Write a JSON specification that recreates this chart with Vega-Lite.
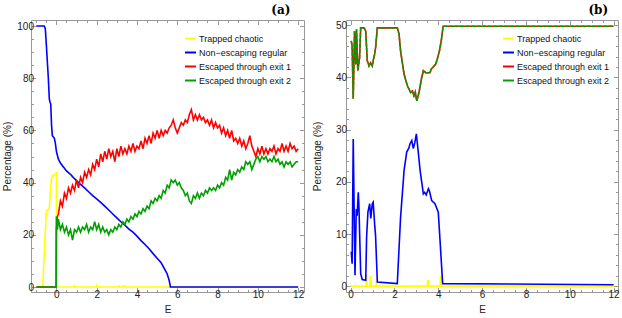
{
  "$schema": "https://vega.github.io/schema/vega-lite/v6.json",
  "padding": {"left": 2, "top": 3, "right": 0, "bottom": 0},
  "spacing": 6,
  "config": {
    "font": "Liberation Sans",
    "view": {"stroke": "#999999", "strokeWidth": 1},
    "axis": {"grid": false, "domain": false, "tickColor": "#999999", "labelColor": "#222222", "labelFontSize": 10, "titleFontSize": 10, "titleFontWeight": "normal", "titleColor": "#222222", "labelFont": "Liberation Sans", "titleFont": "Liberation Sans"},
    "legend": {"orient": "none", "title": null, "symbolType": "stroke", "symbolSize": 121, "symbolStrokeWidth": 2, "labelFontSize": 9, "labelFont": "Liberation Sans", "labelColor": "#111111", "rowPadding": 2, "labelOffset": 2, "padding": 0},
    "title": {"font": "DejaVu Serif", "fontWeight": "bold", "fontSize": 12, "color": "#000000"}
  },
  "resolve": {"scale": {"color": "independent"}, "legend": {"color": "independent"}},
  "datasets": {
    "a": [
      {"E":-1,"v":0,"s":"T"},{"E":-0.68,"v":0,"s":"T"},{"E":-0.5,"v":29,"s":"T"},{"E":-0.45,"v":29.5,"s":"T"},{"E":-0.38,"v":29.8,"s":"T"},{"E":-0.35,"v":30.5,"s":"T"},{"E":-0.25,"v":41.5,"s":"T"},{"E":-0.15,"v":43,"s":"T"},{"E":-0.05,"v":43,"s":"T"},{"E":0,"v":44,"s":"T"},{"E":0.01,"v":0,"s":"T"},{"E":0.88,"v":0,"s":"T"},{"E":0.9,"v":0.8,"s":"T"},{"E":0.92,"v":0,"s":"T"},{"E":1.98,"v":0,"s":"T"},{"E":2,"v":0.5,"s":"T"},{"E":2.02,"v":0,"s":"T"},{"E":3.1,"v":0,"s":"T"},{"E":3.12,"v":0.6,"s":"T"},{"E":3.14,"v":0,"s":"T"},{"E":3.3,"v":0,"s":"T"},{"E":3.32,"v":0.6,"s":"T"},{"E":3.34,"v":0,"s":"T"},{"E":3.42,"v":0,"s":"T"},{"E":3.44,"v":0.6,"s":"T"},{"E":3.46,"v":0,"s":"T"},{"E":12,"v":0,"s":"T"},
      {"E":-1,"v":100,"s":"N"},{"E":-0.6,"v":100,"s":"N"},{"E":-0.55,"v":99,"s":"N"},{"E":-0.5,"v":93,"s":"N"},{"E":-0.4,"v":80,"s":"N"},{"E":-0.35,"v":72,"s":"N"},{"E":-0.32,"v":71,"s":"N"},{"E":-0.28,"v":70,"s":"N"},{"E":-0.24,"v":62,"s":"N"},{"E":-0.2,"v":58,"s":"N"},{"E":-0.15,"v":57.5,"s":"N"},{"E":-0.1,"v":57,"s":"N"},{"E":-0.05,"v":55,"s":"N"},{"E":0,"v":52,"s":"N"},{"E":0.1,"v":49,"s":"N"},{"E":0.2,"v":47.5,"s":"N"},{"E":0.3,"v":46.5,"s":"N"},{"E":0.4,"v":45.5,"s":"N"},{"E":0.5,"v":44.5,"s":"N"},{"E":0.6,"v":43.8,"s":"N"},{"E":0.7,"v":43.2,"s":"N"},{"E":0.8,"v":42.3,"s":"N"},{"E":0.9,"v":41.5,"s":"N"},{"E":1,"v":40.8,"s":"N"},{"E":1.2,"v":39.3,"s":"N"},{"E":1.4,"v":38,"s":"N"},{"E":1.6,"v":36.5,"s":"N"},{"E":1.8,"v":35,"s":"N"},{"E":2,"v":33.8,"s":"N"},{"E":2.2,"v":32.4,"s":"N"},{"E":2.4,"v":31,"s":"N"},{"E":2.6,"v":29.5,"s":"N"},{"E":2.8,"v":28,"s":"N"},{"E":3,"v":26.5,"s":"N"},{"E":3.2,"v":25,"s":"N"},{"E":3.4,"v":23.7,"s":"N"},{"E":3.6,"v":22.2,"s":"N"},{"E":3.8,"v":21,"s":"N"},{"E":4,"v":19.5,"s":"N"},{"E":4.2,"v":17.8,"s":"N"},{"E":4.4,"v":16.3,"s":"N"},{"E":4.6,"v":14.7,"s":"N"},{"E":4.8,"v":12.8,"s":"N"},{"E":5,"v":11,"s":"N"},{"E":5.2,"v":9.3,"s":"N"},{"E":5.4,"v":6.5,"s":"N"},{"E":5.5,"v":5,"s":"N"},{"E":5.6,"v":2.5,"s":"N"},{"E":5.66,"v":0,"s":"N"},{"E":12,"v":0,"s":"N"},
      {"E":-1,"v":0,"s":"E1"},{"E":-0.01,"v":0,"s":"E1"},{"E":0,"v":22,"s":"E1"},{"E":0.05,"v":27,"s":"E1"},{"E":0.1,"v":28,"s":"E1"},{"E":0.2,"v":33,"s":"E1"},{"E":0.3,"v":31,"s":"E1"},{"E":0.4,"v":36,"s":"E1"},{"E":0.5,"v":34,"s":"E1"},{"E":0.6,"v":38,"s":"E1"},{"E":0.7,"v":36,"s":"E1"},{"E":0.8,"v":39,"s":"E1"},{"E":0.9,"v":37,"s":"E1"},{"E":1,"v":41,"s":"E1"},{"E":1.1,"v":38,"s":"E1"},{"E":1.2,"v":42,"s":"E1"},{"E":1.3,"v":40,"s":"E1"},{"E":1.4,"v":44,"s":"E1"},{"E":1.5,"v":42,"s":"E1"},{"E":1.6,"v":45,"s":"E1"},{"E":1.7,"v":43,"s":"E1"},{"E":1.8,"v":47,"s":"E1"},{"E":1.9,"v":45,"s":"E1"},{"E":2,"v":49,"s":"E1"},{"E":2.1,"v":46,"s":"E1"},{"E":2.2,"v":51,"s":"E1"},{"E":2.3,"v":48,"s":"E1"},{"E":2.4,"v":52,"s":"E1"},{"E":2.5,"v":49,"s":"E1"},{"E":2.6,"v":53,"s":"E1"},{"E":2.7,"v":50,"s":"E1"},{"E":2.8,"v":52,"s":"E1"},{"E":2.9,"v":48,"s":"E1"},{"E":3,"v":53,"s":"E1"},{"E":3.1,"v":50,"s":"E1"},{"E":3.2,"v":54,"s":"E1"},{"E":3.3,"v":51,"s":"E1"},{"E":3.4,"v":53,"s":"E1"},{"E":3.5,"v":51,"s":"E1"},{"E":3.6,"v":54,"s":"E1"},{"E":3.7,"v":52,"s":"E1"},{"E":3.8,"v":55,"s":"E1"},{"E":3.9,"v":52,"s":"E1"},{"E":4,"v":54,"s":"E1"},{"E":4.1,"v":53,"s":"E1"},{"E":4.2,"v":56,"s":"E1"},{"E":4.3,"v":53,"s":"E1"},{"E":4.4,"v":57,"s":"E1"},{"E":4.5,"v":55,"s":"E1"},{"E":4.6,"v":58,"s":"E1"},{"E":4.7,"v":55,"s":"E1"},{"E":4.8,"v":59,"s":"E1"},{"E":4.9,"v":57,"s":"E1"},{"E":5,"v":60,"s":"E1"},{"E":5.1,"v":57,"s":"E1"},{"E":5.2,"v":60,"s":"E1"},{"E":5.3,"v":58,"s":"E1"},{"E":5.4,"v":60,"s":"E1"},{"E":5.5,"v":59,"s":"E1"},{"E":5.6,"v":61,"s":"E1"},{"E":5.7,"v":62,"s":"E1"},{"E":5.8,"v":64,"s":"E1"},{"E":5.9,"v":61,"s":"E1"},{"E":6,"v":59,"s":"E1"},{"E":6.1,"v":61,"s":"E1"},{"E":6.2,"v":63,"s":"E1"},{"E":6.3,"v":62,"s":"E1"},{"E":6.4,"v":64,"s":"E1"},{"E":6.5,"v":63,"s":"E1"},{"E":6.6,"v":66,"s":"E1"},{"E":6.7,"v":68,"s":"E1"},{"E":6.8,"v":64,"s":"E1"},{"E":6.9,"v":66,"s":"E1"},{"E":7,"v":64,"s":"E1"},{"E":7.1,"v":66,"s":"E1"},{"E":7.2,"v":64,"s":"E1"},{"E":7.3,"v":65,"s":"E1"},{"E":7.4,"v":63,"s":"E1"},{"E":7.5,"v":64,"s":"E1"},{"E":7.6,"v":62,"s":"E1"},{"E":7.7,"v":64,"s":"E1"},{"E":7.8,"v":61,"s":"E1"},{"E":7.9,"v":63,"s":"E1"},{"E":8,"v":61,"s":"E1"},{"E":8.1,"v":62,"s":"E1"},{"E":8.2,"v":59,"s":"E1"},{"E":8.3,"v":61,"s":"E1"},{"E":8.4,"v":58,"s":"E1"},{"E":8.5,"v":60,"s":"E1"},{"E":8.6,"v":57,"s":"E1"},{"E":8.7,"v":60,"s":"E1"},{"E":8.8,"v":56,"s":"E1"},{"E":8.9,"v":57,"s":"E1"},{"E":9,"v":55,"s":"E1"},{"E":9.1,"v":57,"s":"E1"},{"E":9.2,"v":54,"s":"E1"},{"E":9.3,"v":56,"s":"E1"},{"E":9.4,"v":53,"s":"E1"},{"E":9.5,"v":55,"s":"E1"},{"E":9.6,"v":58,"s":"E1"},{"E":9.7,"v":54,"s":"E1"},{"E":9.8,"v":52,"s":"E1"},{"E":9.9,"v":50,"s":"E1"},{"E":10,"v":53,"s":"E1"},{"E":10.1,"v":51,"s":"E1"},{"E":10.2,"v":54,"s":"E1"},{"E":10.3,"v":51,"s":"E1"},{"E":10.4,"v":53,"s":"E1"},{"E":10.5,"v":51,"s":"E1"},{"E":10.6,"v":53,"s":"E1"},{"E":10.7,"v":52,"s":"E1"},{"E":10.8,"v":54,"s":"E1"},{"E":10.9,"v":51,"s":"E1"},{"E":11,"v":53,"s":"E1"},{"E":11.1,"v":52,"s":"E1"},{"E":11.2,"v":55,"s":"E1"},{"E":11.3,"v":52,"s":"E1"},{"E":11.4,"v":54,"s":"E1"},{"E":11.5,"v":52,"s":"E1"},{"E":11.6,"v":55,"s":"E1"},{"E":11.7,"v":53,"s":"E1"},{"E":11.8,"v":54,"s":"E1"},{"E":11.9,"v":52,"s":"E1"},{"E":12,"v":53,"s":"E1"},
      {"E":-1,"v":0,"s":"E2"},{"E":-0.01,"v":0,"s":"E2"},{"E":0,"v":27,"s":"E2"},{"E":0.05,"v":22,"s":"E2"},{"E":0.1,"v":26,"s":"E2"},{"E":0.2,"v":22,"s":"E2"},{"E":0.3,"v":24,"s":"E2"},{"E":0.4,"v":21,"s":"E2"},{"E":0.5,"v":23,"s":"E2"},{"E":0.6,"v":20,"s":"E2"},{"E":0.7,"v":22,"s":"E2"},{"E":0.8,"v":18,"s":"E2"},{"E":0.9,"v":22,"s":"E2"},{"E":1,"v":21,"s":"E2"},{"E":1.1,"v":23,"s":"E2"},{"E":1.2,"v":21,"s":"E2"},{"E":1.3,"v":23,"s":"E2"},{"E":1.4,"v":22,"s":"E2"},{"E":1.5,"v":24,"s":"E2"},{"E":1.6,"v":21,"s":"E2"},{"E":1.7,"v":23,"s":"E2"},{"E":1.8,"v":22,"s":"E2"},{"E":1.9,"v":25,"s":"E2"},{"E":2,"v":22,"s":"E2"},{"E":2.1,"v":24,"s":"E2"},{"E":2.2,"v":21,"s":"E2"},{"E":2.3,"v":23,"s":"E2"},{"E":2.4,"v":21,"s":"E2"},{"E":2.5,"v":22,"s":"E2"},{"E":2.6,"v":20,"s":"E2"},{"E":2.7,"v":22,"s":"E2"},{"E":2.8,"v":21,"s":"E2"},{"E":2.9,"v":23,"s":"E2"},{"E":3,"v":22,"s":"E2"},{"E":3.1,"v":24,"s":"E2"},{"E":3.2,"v":23,"s":"E2"},{"E":3.3,"v":25,"s":"E2"},{"E":3.4,"v":24,"s":"E2"},{"E":3.5,"v":26,"s":"E2"},{"E":3.6,"v":25,"s":"E2"},{"E":3.7,"v":27,"s":"E2"},{"E":3.8,"v":26,"s":"E2"},{"E":3.9,"v":28,"s":"E2"},{"E":4,"v":27,"s":"E2"},{"E":4.1,"v":29,"s":"E2"},{"E":4.2,"v":28,"s":"E2"},{"E":4.3,"v":30,"s":"E2"},{"E":4.4,"v":29,"s":"E2"},{"E":4.5,"v":31,"s":"E2"},{"E":4.6,"v":30,"s":"E2"},{"E":4.7,"v":33,"s":"E2"},{"E":4.8,"v":32,"s":"E2"},{"E":4.9,"v":34,"s":"E2"},{"E":5,"v":33,"s":"E2"},{"E":5.1,"v":35,"s":"E2"},{"E":5.2,"v":34,"s":"E2"},{"E":5.3,"v":37,"s":"E2"},{"E":5.4,"v":36,"s":"E2"},{"E":5.5,"v":39,"s":"E2"},{"E":5.6,"v":38,"s":"E2"},{"E":5.7,"v":41,"s":"E2"},{"E":5.8,"v":40,"s":"E2"},{"E":5.9,"v":41,"s":"E2"},{"E":6,"v":39,"s":"E2"},{"E":6.1,"v":40,"s":"E2"},{"E":6.2,"v":38,"s":"E2"},{"E":6.3,"v":37,"s":"E2"},{"E":6.4,"v":35,"s":"E2"},{"E":6.5,"v":36,"s":"E2"},{"E":6.6,"v":33,"s":"E2"},{"E":6.7,"v":32,"s":"E2"},{"E":6.8,"v":35,"s":"E2"},{"E":6.9,"v":34,"s":"E2"},{"E":7,"v":36,"s":"E2"},{"E":7.1,"v":34,"s":"E2"},{"E":7.2,"v":36,"s":"E2"},{"E":7.3,"v":35,"s":"E2"},{"E":7.4,"v":37,"s":"E2"},{"E":7.5,"v":36,"s":"E2"},{"E":7.6,"v":38,"s":"E2"},{"E":7.7,"v":37,"s":"E2"},{"E":7.8,"v":38,"s":"E2"},{"E":7.9,"v":37,"s":"E2"},{"E":8,"v":39,"s":"E2"},{"E":8.1,"v":38,"s":"E2"},{"E":8.2,"v":40,"s":"E2"},{"E":8.3,"v":39,"s":"E2"},{"E":8.4,"v":42,"s":"E2"},{"E":8.5,"v":41,"s":"E2"},{"E":8.6,"v":45,"s":"E2"},{"E":8.7,"v":41,"s":"E2"},{"E":8.8,"v":44,"s":"E2"},{"E":8.9,"v":43,"s":"E2"},{"E":9,"v":45,"s":"E2"},{"E":9.1,"v":44,"s":"E2"},{"E":9.2,"v":46,"s":"E2"},{"E":9.3,"v":45,"s":"E2"},{"E":9.4,"v":48,"s":"E2"},{"E":9.5,"v":47,"s":"E2"},{"E":9.6,"v":48,"s":"E2"},{"E":9.7,"v":45,"s":"E2"},{"E":9.8,"v":47,"s":"E2"},{"E":9.9,"v":49,"s":"E2"},{"E":10,"v":50,"s":"E2"},{"E":10.1,"v":48,"s":"E2"},{"E":10.2,"v":50,"s":"E2"},{"E":10.3,"v":49,"s":"E2"},{"E":10.4,"v":50,"s":"E2"},{"E":10.5,"v":48,"s":"E2"},{"E":10.6,"v":49,"s":"E2"},{"E":10.7,"v":48,"s":"E2"},{"E":10.8,"v":50,"s":"E2"},{"E":10.9,"v":48,"s":"E2"},{"E":11,"v":49,"s":"E2"},{"E":11.1,"v":47,"s":"E2"},{"E":11.2,"v":48,"s":"E2"},{"E":11.3,"v":46,"s":"E2"},{"E":11.4,"v":48,"s":"E2"},{"E":11.5,"v":47,"s":"E2"},{"E":11.6,"v":48,"s":"E2"},{"E":11.7,"v":46,"s":"E2"},{"E":11.8,"v":47,"s":"E2"},{"E":11.9,"v":48,"s":"E2"},{"E":12,"v":48,"s":"E2"}
    ],
    "b": [
      {"E":0,"v":0,"s":"T"},{"E":0.71,"v":0,"s":"T"},{"E":0.73,"v":2.1,"s":"T"},{"E":0.75,"v":0,"s":"T"},{"E":0.89,"v":0,"s":"T"},{"E":0.91,"v":2,"s":"T"},{"E":0.93,"v":0,"s":"T"},{"E":1.17,"v":0,"s":"T"},{"E":1.19,"v":1,"s":"T"},{"E":1.21,"v":0,"s":"T"},{"E":3.51,"v":0,"s":"T"},{"E":3.53,"v":1.2,"s":"T"},{"E":3.55,"v":0,"s":"T"},{"E":4.09,"v":0,"s":"T"},{"E":4.11,"v":2,"s":"T"},{"E":4.13,"v":0,"s":"T"},{"E":12,"v":0,"s":"T"},
      {"E":0.03,"v":6.6,"s":"N"},{"E":0.07,"v":4.3,"s":"N"},{"E":0.12,"v":28.2,"s":"N"},{"E":0.2,"v":2.1,"s":"N"},{"E":0.26,"v":14.8,"s":"N"},{"E":0.3,"v":13.5,"s":"N"},{"E":0.35,"v":18,"s":"N"},{"E":0.38,"v":15.3,"s":"N"},{"E":0.46,"v":2.4,"s":"N"},{"E":0.53,"v":1.3,"s":"N"},{"E":0.69,"v":1.15,"s":"N"},{"E":0.73,"v":9.4,"s":"N"},{"E":0.79,"v":14.2,"s":"N"},{"E":0.87,"v":15.8,"s":"N"},{"E":0.92,"v":13,"s":"N"},{"E":0.99,"v":15.8,"s":"N"},{"E":1.03,"v":16.1,"s":"N"},{"E":1.1,"v":11.7,"s":"N"},{"E":1.14,"v":9.6,"s":"N"},{"E":1.22,"v":0.8,"s":"N"},{"E":2.13,"v":0.5,"s":"N"},{"E":2.28,"v":13.2,"s":"N"},{"E":2.44,"v":22.2,"s":"N"},{"E":2.56,"v":25.7,"s":"N"},{"E":2.66,"v":26.5,"s":"N"},{"E":2.71,"v":27.3,"s":"N"},{"E":2.79,"v":27.9,"s":"N"},{"E":2.86,"v":26.4,"s":"N"},{"E":2.93,"v":27.5,"s":"N"},{"E":3,"v":29.2,"s":"N"},{"E":3.08,"v":26,"s":"N"},{"E":3.17,"v":22.2,"s":"N"},{"E":3.32,"v":17.7,"s":"N"},{"E":3.38,"v":18,"s":"N"},{"E":3.45,"v":17.5,"s":"N"},{"E":3.55,"v":18.7,"s":"N"},{"E":3.6,"v":18.2,"s":"N"},{"E":3.7,"v":16.4,"s":"N"},{"E":3.85,"v":15.8,"s":"N"},{"E":4,"v":14.2,"s":"N"},{"E":4.08,"v":8.8,"s":"N"},{"E":4.2,"v":0.5,"s":"N"},{"E":12,"v":0.3,"s":"N"},
      {"E":0.03,"v":47,"s":"E1"},{"E":0.07,"v":46,"s":"E1"},{"E":0.12,"v":35.9,"s":"E1"},{"E":0.18,"v":48.9,"s":"E1"},{"E":0.24,"v":42.5,"s":"E1"},{"E":0.27,"v":49.2,"s":"E1"},{"E":0.33,"v":41.3,"s":"E1"},{"E":0.41,"v":43.8,"s":"E1"},{"E":0.46,"v":49.5,"s":"E1"},{"E":0.61,"v":49.5,"s":"E1"},{"E":0.69,"v":48.9,"s":"E1"},{"E":0.76,"v":43.2,"s":"E1"},{"E":0.84,"v":42.2,"s":"E1"},{"E":0.91,"v":42.8,"s":"E1"},{"E":0.99,"v":42.2,"s":"E1"},{"E":1.03,"v":43.2,"s":"E1"},{"E":1.1,"v":44.5,"s":"E1"},{"E":1.14,"v":45.7,"s":"E1"},{"E":1.22,"v":49.5,"s":"E1"},{"E":2.13,"v":49.5,"s":"E1"},{"E":2.21,"v":48.3,"s":"E1"},{"E":2.28,"v":45.1,"s":"E1"},{"E":2.44,"v":40.6,"s":"E1"},{"E":2.59,"v":38.4,"s":"E1"},{"E":2.74,"v":37.1,"s":"E1"},{"E":2.82,"v":37.4,"s":"E1"},{"E":2.89,"v":36.5,"s":"E1"},{"E":2.95,"v":37.2,"s":"E1"},{"E":3.02,"v":35.5,"s":"E1"},{"E":3.12,"v":37.1,"s":"E1"},{"E":3.23,"v":39.7,"s":"E1"},{"E":3.32,"v":41.3,"s":"E1"},{"E":3.43,"v":40.9,"s":"E1"},{"E":3.62,"v":40.9,"s":"E1"},{"E":3.68,"v":41.6,"s":"E1"},{"E":3.88,"v":42.5,"s":"E1"},{"E":4.04,"v":44.8,"s":"E1"},{"E":4.14,"v":47.1,"s":"E1"},{"E":4.22,"v":49.8,"s":"E1"},{"E":12,"v":49.8,"s":"E1"},
      {"E":0.03,"v":47,"s":"E2"},{"E":0.07,"v":46,"s":"E2"},{"E":0.12,"v":35.9,"s":"E2"},{"E":0.18,"v":48.9,"s":"E2"},{"E":0.24,"v":42.5,"s":"E2"},{"E":0.27,"v":49.2,"s":"E2"},{"E":0.33,"v":41.3,"s":"E2"},{"E":0.41,"v":43.8,"s":"E2"},{"E":0.46,"v":49.5,"s":"E2"},{"E":0.61,"v":49.5,"s":"E2"},{"E":0.69,"v":48.9,"s":"E2"},{"E":0.76,"v":43.2,"s":"E2"},{"E":0.84,"v":42.2,"s":"E2"},{"E":0.91,"v":42.8,"s":"E2"},{"E":0.99,"v":42.2,"s":"E2"},{"E":1.03,"v":43.2,"s":"E2"},{"E":1.1,"v":44.5,"s":"E2"},{"E":1.14,"v":45.7,"s":"E2"},{"E":1.22,"v":49.5,"s":"E2"},{"E":2.13,"v":49.5,"s":"E2"},{"E":2.21,"v":48.3,"s":"E2"},{"E":2.28,"v":45.1,"s":"E2"},{"E":2.44,"v":40.6,"s":"E2"},{"E":2.59,"v":38.4,"s":"E2"},{"E":2.74,"v":37.1,"s":"E2"},{"E":2.82,"v":37.4,"s":"E2"},{"E":2.89,"v":36.5,"s":"E2"},{"E":2.95,"v":37.2,"s":"E2"},{"E":3.02,"v":35.5,"s":"E2"},{"E":3.12,"v":37.1,"s":"E2"},{"E":3.23,"v":39.7,"s":"E2"},{"E":3.32,"v":41.3,"s":"E2"},{"E":3.43,"v":40.9,"s":"E2"},{"E":3.62,"v":40.9,"s":"E2"},{"E":3.68,"v":41.6,"s":"E2"},{"E":3.88,"v":42.5,"s":"E2"},{"E":4.04,"v":44.8,"s":"E2"},{"E":4.14,"v":47.1,"s":"E2"},{"E":4.22,"v":49.8,"s":"E2"},{"E":12,"v":49.8,"s":"E2"}
    ]
  },
  "hconcat": [
    {
      "width": 273, "height": 272,
      "title": {"text": "(a)", "anchor": "end", "dx": -14, "offset": 3},
      "data": {"name": "a"},
      "resolve": {"axis": {"x": "independent", "y": "independent"}},
      "encoding": {
        "color": {"field": "s", "type": "nominal", "scale": {"domain": ["T", "N", "E1", "E2"], "range": ["#ffff00", "#0000ff", "#ff0000", "#00a000"]},
          "legend": {"legendX": 153, "legendY": 12, "labelExpr": "({'T':'Trapped chaotic','N':'Non−escaping regular','E1':'Escaped through exit 1','E2':'Escaped through exit 2'})[datum.label]"}}
      },
      "layer": [
        {"transform": [{"filter": "datum.s === 'T'"}], "mark": {"type": "line", "strokeWidth": 1.6},
         "encoding": {
           "x": {"field": "E", "type": "quantitative", "scale": {"domain": [-1.26, 12.29], "nice": false, "zero": false}, "axis": {"orient": "bottom", "values": [0,2,4,6,8,10,12], "tickSize": -4.5, "labelPadding": 2, "title": "E", "titlePadding": 5}},
           "y": {"field": "v", "type": "quantitative", "scale": {"domain": [-1.9, 102.3], "nice": false, "zero": false}, "axis": {"orient": "left", "values": [0,20,40,60,80,100], "tickSize": -4.5, "labelPadding": 2, "title": "Percentage (%)", "titlePadding": 4}}
         }},
        {"transform": [{"filter": "datum.s === 'N'"}], "mark": {"type": "line", "strokeWidth": 1.6},
         "encoding": {
           "x": {"field": "E", "type": "quantitative", "scale": {"domain": [-1.26, 12.29], "nice": false, "zero": false}, "axis": {"orient": "bottom", "values": [-1,-0.5,0.5,1,1.5,2.5,3,3.5,4.5,5,5.5,6.5,7,7.5,8.5,9,9.5,10.5,11,11.5], "tickSize": -2.5, "labels": false, "title": null}},
           "y": {"field": "v", "type": "quantitative", "scale": {"domain": [-1.9, 102.3], "nice": false, "zero": false}, "axis": {"orient": "left", "values": [5,10,15,25,30,35,45,50,55,65,70,75,85,90,95], "tickSize": -2.5, "labels": false, "title": null}}
         }},
        {"transform": [{"filter": "datum.s === 'E1'"}], "mark": {"type": "line", "strokeWidth": 1.6},
         "encoding": {
           "x": {"field": "E", "type": "quantitative", "scale": {"domain": [-1.26, 12.29], "nice": false, "zero": false}, "axis": {"orient": "top", "values": [0,2,4,6,8,10,12], "tickSize": -4.5, "labels": false, "title": null}},
           "y": {"field": "v", "type": "quantitative", "scale": {"domain": [-1.9, 102.3], "nice": false, "zero": false}, "axis": {"orient": "right", "values": [0,20,40,60,80,100], "tickSize": -4.5, "labels": false, "title": null}}
         }},
        {"transform": [{"filter": "datum.s === 'E2'"}], "mark": {"type": "line", "strokeWidth": 1.6},
         "encoding": {
           "x": {"field": "E", "type": "quantitative", "scale": {"domain": [-1.26, 12.29], "nice": false, "zero": false}, "axis": {"orient": "top", "values": [-1,-0.5,0.5,1,1.5,2.5,3,3.5,4.5,5,5.5,6.5,7,7.5,8.5,9,9.5,10.5,11,11.5], "tickSize": -2.5, "labels": false, "title": null}},
           "y": {"field": "v", "type": "quantitative", "scale": {"domain": [-1.9, 102.3], "nice": false, "zero": false}, "axis": {"orient": "right", "values": [5,10,15,25,30,35,45,50,55,65,70,75,85,90,95], "tickSize": -2.5, "labels": false, "title": null}}
         }}
      ]
    },
    {
      "width": 272, "height": 272,
      "title": {"text": "(b)", "anchor": "end", "dx": -11, "offset": 3},
      "data": {"name": "b"},
      "resolve": {"axis": {"x": "independent", "y": "independent"}},
      "encoding": {
        "color": {"field": "s", "type": "nominal", "scale": {"domain": ["T", "N", "E1", "E2"], "range": ["#ffff00", "#0000ff", "#ff0000", "#00a000"]},
          "legend": {"legendX": 156, "legendY": 12, "labelExpr": "({'T':'Trapped chaotic','N':'Non−escaping regular','E1':'Escaped through exit 1','E2':'Escaped through exit 2'})[datum.label]"}}
      },
      "layer": [
        {"transform": [{"filter": "datum.s === 'T'"}], "mark": {"type": "line", "strokeWidth": 2},
         "encoding": {
           "x": {"field": "E", "type": "quantitative", "scale": {"domain": [-0.21, 12.2], "nice": false, "zero": false}, "axis": {"orient": "bottom", "values": [0,2,4,6,8,10,12], "tickSize": -4.5, "labelPadding": 2, "title": "E", "titlePadding": 5}},
           "y": {"field": "v", "type": "quantitative", "scale": {"domain": [-1.1, 51], "nice": false, "zero": false}, "axis": {"orient": "left", "values": [0,10,20,30,40,50], "tickSize": -4.5, "labelPadding": 4, "title": "Percentage (%)", "titlePadding": 13}}
         }},
        {"transform": [{"filter": "datum.s === 'N'"}], "mark": {"type": "line", "strokeWidth": 1.6},
         "encoding": {
           "x": {"field": "E", "type": "quantitative", "scale": {"domain": [-0.21, 12.2], "nice": false, "zero": false}, "axis": {"orient": "bottom", "values": [0.5,1,1.5,2.5,3,3.5,4.5,5,5.5,6.5,7,7.5,8.5,9,9.5,10.5,11,11.5], "tickSize": -2.5, "labels": false, "title": null}},
           "y": {"field": "v", "type": "quantitative", "scale": {"domain": [-1.1, 51], "nice": false, "zero": false}, "axis": {"orient": "left", "values": [2,4,6,8,12,14,16,18,22,24,26,28,32,34,36,38,42,44,46,48], "tickSize": -2.5, "labels": false, "title": null}}
         }},
        {"transform": [{"filter": "datum.s === 'E1'"}], "mark": {"type": "line", "strokeWidth": 1.6},
         "encoding": {
           "x": {"field": "E", "type": "quantitative", "scale": {"domain": [-0.21, 12.2], "nice": false, "zero": false}, "axis": {"orient": "top", "values": [0,2,4,6,8,10,12], "tickSize": -4.5, "labels": false, "title": null}},
           "y": {"field": "v", "type": "quantitative", "scale": {"domain": [-1.1, 51], "nice": false, "zero": false}, "axis": {"orient": "right", "values": [0,10,20,30,40,50], "tickSize": -4.5, "labels": false, "title": null}}
         }},
        {"transform": [{"filter": "datum.s === 'E2'"}], "mark": {"type": "line", "strokeWidth": 1.6, "strokeDash": [4, 1.5]},
         "encoding": {
           "x": {"field": "E", "type": "quantitative", "scale": {"domain": [-0.21, 12.2], "nice": false, "zero": false}, "axis": {"orient": "top", "values": [0.5,1,1.5,2.5,3,3.5,4.5,5,5.5,6.5,7,7.5,8.5,9,9.5,10.5,11,11.5], "tickSize": -2.5, "labels": false, "title": null}},
           "y": {"field": "v", "type": "quantitative", "scale": {"domain": [-1.1, 51], "nice": false, "zero": false}, "axis": {"orient": "right", "values": [2,4,6,8,12,14,16,18,22,24,26,28,32,34,36,38,42,44,46,48], "tickSize": -2.5, "labels": false, "title": null}}
         }}
      ]
    }
  ]
}
